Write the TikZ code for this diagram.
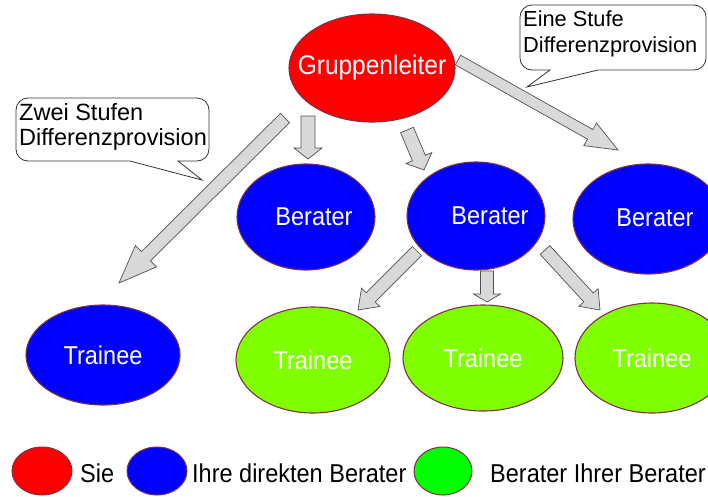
\documentclass[tikz,border=0pt]{standalone}
\usepackage{fontspec}
\usepackage{graphicx}
\setmainfont{Liberation Sans}
\usetikzlibrary{shapes.geometric,calc}
\definecolor{cred}{HTML}{FF0000}
\definecolor{cblue}{HTML}{0000FF}
\definecolor{clime}{HTML}{80FF00}
\definecolor{cgreen}{HTML}{00FF00}
\definecolor{rimcol}{RGB}{125,50,70}
\definecolor{arrfill}{HTML}{D9D9D9}
\definecolor{arrline}{HTML}{505050}
\newcommand\tallt[1]{\scalebox{1}[1.1]{#1}}
\newcommand\intext[2][0pt]{\makebox[0pt]{\hspace*{#1}\tallt{#2}}}
\tikzset{
  bubble/.style={ellipse, draw=rimcol, line width=1.1pt, inner sep=0pt, text=white,
    font=\fontsize{23.5}{26}\selectfont},
  legdot/.style={ellipse, draw=rimcol, line width=1pt, inner sep=0pt, minimum width=60pt, minimum height=48pt},
  legtext/.style={anchor=west, inner sep=0pt, font=\fontsize{23.5}{26}\selectfont},
  blockarr/.style={draw=arrline, fill=arrfill, line width=0.7pt, line join=miter},
  callout/.style={draw=black!80, fill=white, line width=0.8pt},
  callouttext/.style={anchor=north west, inner sep=0pt, align=left}
}
\newcommand\blockarrow[5]{%
  \coordinate (#2-n) at ($(#2)!#5!(#1)$);
  \draw[blockarr] ($(#1)!#3!90:(#2)$) -- ($(#2-n)!#3!-90:(#1)$) -- ($(#2-n)!#4!-90:(#1)$)
    -- (#2) -- ($(#2-n)!#4!90:(#1)$) -- ($(#2-n)!#3!90:(#1)$) -- ($(#1)!#3!-90:(#2)$) -- cycle;}
\begin{document}
\begin{tikzpicture}[x=1pt,y=-1pt]
\useasboundingbox (0,0) rectangle (708,496);
\clip (0,0) rectangle (708,496);

% callouts
\draw[callout] (130,161) [rounded corners=12pt] -- (16,161) -- (16,98) -- (209,98) -- (209,161) [sharp corners] -- (178,161) -- (202,180) -- cycle;
\node[callouttext, font=\fontsize{23.5}{25}\selectfont] (c1) at (19,103) {Zwei Stufen\\Differenzprovision};

\draw[callout] (598,70) [rounded corners=12pt] -- (706,70) -- (706,5) -- (520,5) -- (520,70) [sharp corners] -- (550,70) -- (527,87) -- cycle;
\node[callouttext, font=\fontsize{21.8}{26}\selectfont] (c2) at (523,10) {Eine Stufe\\Differenzprovision};

% ellipses
\node[bubble, fill=cred, minimum width=166pt, minimum height=108pt, font=\fontsize{24.5}{26}\selectfont] (g) at (372,68) {\intext{Gruppenleiter}};
\node[bubble, fill=cblue, minimum width=138pt, minimum height=106pt] (b1) at (306,217) {\intext[16pt]{Berater}};
\node[bubble, fill=cblue, minimum width=138pt, minimum height=108pt] (b2) at (476,216) {\intext[28pt]{Berater}};
\node[bubble, fill=cblue, minimum width=150pt, minimum height=110pt] (b3) at (648,219) {\raisebox{3pt}{\intext[14pt]{Berater}}};
\node[bubble, fill=cblue, minimum width=154pt, minimum height=100pt] (t0) at (103,355) {\intext{Trainee}};
\node[bubble, fill=clime, minimum width=154pt, minimum height=106pt] (t1) at (313,360) {\intext{Trainee}};
\node[bubble, fill=clime, minimum width=160pt, minimum height=106pt] (t2) at (483,358) {\intext{Trainee}};
\node[bubble, fill=clime, minimum width=154pt, minimum height=110pt] (t3) at (652,358) {\intext{Trainee}};

% arrows
\coordinate (a1s) at (285,118); \coordinate (a1e) at (119,283);
\coordinate (a2s) at (308,116); \coordinate (a2e) at (308,159);
\coordinate (a3s) at (407,130); \coordinate (a3e) at (424,170);
\coordinate (a4s) at (458,60);  \coordinate (a4e) at (618,150);
\coordinate (a5s) at (417,251); \coordinate (a5e) at (358,310);
\coordinate (a6s) at (487,271); \coordinate (a6e) at (487,302);
\coordinate (a7s) at (545,250); \coordinate (a7e) at (600,310);
\blockarrow{a1s}{a1e}{6.5pt}{15pt}{38pt}
\blockarrow{a2s}{a2e}{7pt}{14pt}{11pt}
\blockarrow{a3s}{a3e}{7pt}{14pt}{13pt}
\blockarrow{a4s}{a4e}{5.5pt}{13pt}{32pt}
\blockarrow{a5s}{a5e}{6.5pt}{13pt}{18pt}
\blockarrow{a6s}{a6e}{6.5pt}{13.5pt}{8pt}
\blockarrow{a7s}{a7e}{6.5pt}{13pt}{17pt}

% legend
\node[legdot, fill=cred] (lr) at (42,471) {};
\node[legtext] (lrt) at (80,473) {\tallt{Sie}};
\node[legdot, fill=cblue] (lb) at (157,471) {};
\node[legtext] (lbt) at (192,473) {\tallt{Ihre direkten Berater}};
\node[legdot, fill=cgreen, minimum width=58pt] (lg) at (443,471) {};
\node[legtext] (lgt) at (490,473) {\tallt{Berater Ihrer Berater}};
\end{tikzpicture}
\end{document}
